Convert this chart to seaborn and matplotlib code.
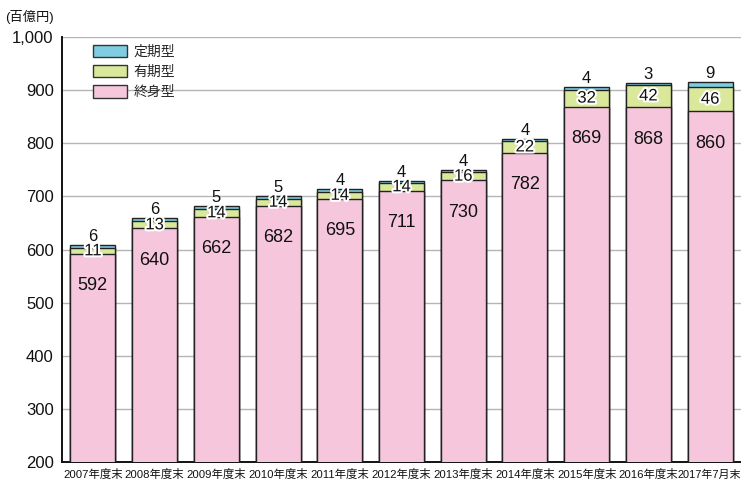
import matplotlib
matplotlib.use("Agg")
import matplotlib.pyplot as plt
import matplotlib.patheffects as pe
from matplotlib import font_manager
from matplotlib.ticker import FuncFormatter, FixedLocator
import matplotlib.transforms as mtrans
import seaborn as sns
import pandas as pd
import numpy as np

# 年度末ごとの責任準備金（百億円）
years = ["2007年度末", "2008年度末", "2009年度末", "2010年度末", "2011年度末",
         "2012年度末", "2013年度末", "2014年度末", "2015年度末", "2016年度末",
         "2017年7月末"]
lifetime = [592, 640, 662, 682, 695, 711, 730, 782, 869, 868, 860]   # 終身型
fixed_term = [11, 13, 14, 14, 14, 14, 16, 22, 32, 42, 46]            # 有期型
term = [6, 6, 5, 5, 4, 4, 4, 4, 4, 3, 9]                              # 定期型

series_names = ["定期型", "有期型", "終身型"]
colors = {"定期型": "#7fcde3", "有期型": "#d9e89b", "終身型": "#f6c7dc"}

sns.set_theme(style="white")
installed = {f.name for f in font_manager.fontManager.ttflist}
latin = "Liberation Sans" if "Liberation Sans" in installed else "DejaVu Sans"
base_family = [latin, "Noto Sans CJK JP", "DejaVu Sans"]
plt.rcParams["font.family"] = base_family

df = pd.DataFrame({"year": years, "終身型": lifetime, "有期型": fixed_term, "定期型": term})
df["lvl_pink"] = df["終身型"]
df["lvl_green"] = df["終身型"] + df["有期型"]
df["lvl_blue"] = df["lvl_green"] + df["定期型"]

fig = plt.figure(figsize=(7.41, 4.84), dpi=100)
ax = fig.add_axes([62 / 741, 22 / 484, 679 / 741, 425 / 484])

bar_w = 0.73
edge = dict(edgecolor="#222222", linewidth=1.0)
# draw cumulative levels from the top down so each segment shows its own colour
sns.barplot(data=df, x="year", y="lvl_blue", color=colors["定期型"], width=bar_w,
            saturation=1, ax=ax, zorder=3, **edge)
sns.barplot(data=df, x="year", y="lvl_green", color=colors["有期型"], width=bar_w,
            saturation=1, ax=ax, zorder=3, **edge)
sns.barplot(data=df, x="year", y="lvl_pink", color=colors["終身型"], width=bar_w,
            saturation=1, ax=ax, zorder=3, **edge)

ax.set_ylim(200, 1000)
ax.set_xlim(-0.5, len(years) - 0.5)
ax.set_xlabel("")
ax.set_ylabel("")

ax.yaxis.set_major_locator(FixedLocator(np.arange(200, 1001, 100)))
ax.yaxis.set_major_formatter(FuncFormatter(lambda v, p: f"{int(v):,}"))
ax.yaxis.grid(True, color="#b5b5b5", linewidth=1.0, zorder=0)
ax.set_axisbelow(True)

ax.tick_params(axis="y", labelsize=12, length=0, pad=6, colors="#111111")
# category labels are written below the axis individually so the last one can hug the edge
ax.tick_params(axis="x", which="major", length=0, labelbottom=False)
ax.set_xticks(np.arange(len(years)) + 0.5, minor=True)
ax.tick_params(axis="x", which="minor", direction="in", length=8, width=1.2, color="#111111")

xlab_tr = mtrans.blended_transform_factory(ax.transData, ax.transAxes)
for i, name in enumerate(years):
    last = i == len(years) - 1
    ax.text(len(years) - 0.5 if last else i, -0.017, name,
            transform=xlab_tr, ha="right" if last else "center", va="top",
            fontsize=7.9 if last else 8.2, color="#111111")

for s in ["top", "right"]:
    ax.spines[s].set_visible(False)
for s in ["left", "bottom"]:
    ax.spines[s].set_color("#111111")
    ax.spines[s].set_linewidth(1.4)

halo = [pe.withStroke(linewidth=3, foreground="white")]
for i in range(len(years)):
    p = lifetime[i]
    g = p + fixed_term[i]
    b = g + term[i]
    ax.text(i, p - 60, f"{p}", ha="center", va="center", fontsize=13,
            color="#111111", zorder=5)
    ax.text(i, (p + g) / 2, f"{fixed_term[i]}", ha="center", va="center",
            fontsize=12, color="#111111", path_effects=halo, zorder=5)
    ax.text(i, b + 2, f"{term[i]}", ha="center", va="bottom", fontsize=12,
            color="#111111", zorder=5)

handles = [plt.Rectangle((0, 0), 1, 1, facecolor=colors[n], edgecolor="#333333",
                         linewidth=1.0) for n in series_names]
ax.legend(handles, series_names, loc="upper left", bbox_to_anchor=(0.032, 1.005),
          frameon=False, fontsize=10, handlelength=2.4, handleheight=1.0,
          labelspacing=0.45, handletextpad=0.5, borderaxespad=0.3)

fig.text(5 / 741, 1 - 17 / 484, "(百億円)", fontsize=9.5, ha="left", va="center",
         color="#111111")

fig.savefig("out.png", dpi=100)
